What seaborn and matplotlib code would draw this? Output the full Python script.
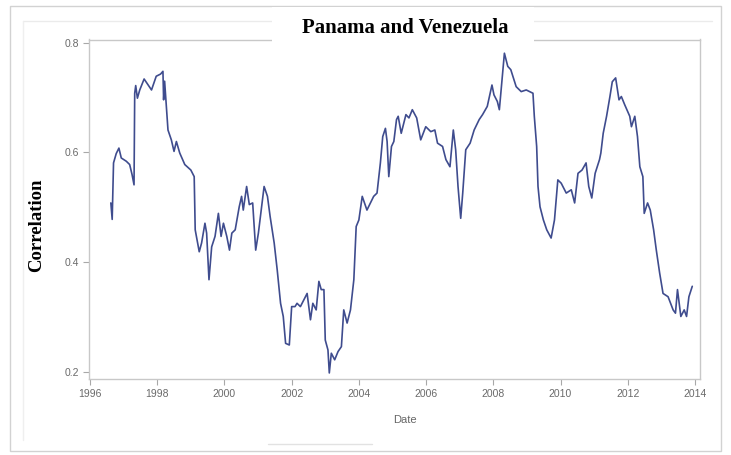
import matplotlib
matplotlib.use("Agg")
import matplotlib.pyplot as plt
import seaborn as sns
import pandas as pd
from matplotlib.patches import Rectangle
from matplotlib.lines import Line2D

# Rolling correlation between Panama and Venezuela (decimal years)
date_years = [
    1996.62, 1996.66, 1996.70, 1996.78, 1996.86, 1996.93, 1997.08, 1997.18, 1997.25, 1997.31,
    1997.33, 1997.36, 1997.41, 1997.48, 1997.61, 1997.73, 1997.83, 1997.97, 1998.10, 1998.17,
    1998.19, 1998.22, 1998.32, 1998.42, 1998.50, 1998.57, 1998.67, 1998.82, 1999.00, 1999.10,
    1999.13, 1999.25, 1999.32, 1999.42, 1999.47, 1999.54, 1999.62, 1999.72, 1999.82, 1999.90,
    1999.97, 2000.07, 2000.15, 2000.22, 2000.32, 2000.44, 2000.51, 2000.56, 2000.66, 2000.74,
    2000.84, 2000.93, 2001.01, 2001.18, 2001.28, 2001.36, 2001.48, 2001.57, 2001.67, 2001.75,
    2001.82, 2001.93, 2002.00, 2002.10, 2002.16, 2002.26, 2002.46, 2002.56, 2002.63, 2002.73,
    2002.81, 2002.88, 2002.96, 2003.00, 2003.08, 2003.12, 2003.18, 2003.28, 2003.38, 2003.48,
    2003.55, 2003.65, 2003.75, 2003.85, 2003.92, 2004.00, 2004.10, 2004.24, 2004.44, 2004.54,
    2004.64, 2004.71, 2004.79, 2004.84, 2004.89, 2004.97, 2005.04, 2005.12, 2005.17, 2005.26,
    2005.40, 2005.49, 2005.59, 2005.72, 2005.84, 2005.99, 2006.14, 2006.26, 2006.34, 2006.49,
    2006.59, 2006.71, 2006.81, 2006.88, 2006.95, 2007.03, 2007.09, 2007.18, 2007.31, 2007.43,
    2007.58, 2007.68, 2007.82, 2007.96, 2008.02, 2008.12, 2008.18, 2008.33, 2008.43, 2008.52,
    2008.68, 2008.83, 2008.98, 2009.18, 2009.22, 2009.29, 2009.33, 2009.39, 2009.49, 2009.59,
    2009.72, 2009.82, 2009.92, 2010.02, 2010.17, 2010.32, 2010.42, 2010.52, 2010.64, 2010.76,
    2010.84, 2010.93, 2011.03, 2011.16, 2011.20, 2011.27, 2011.37, 2011.47, 2011.54, 2011.64,
    2011.74, 2011.81, 2011.91, 2012.06, 2012.11, 2012.21, 2012.29, 2012.36, 2012.45, 2012.49,
    2012.59, 2012.67, 2012.77, 2012.85, 2012.95, 2013.05, 2013.20, 2013.35, 2013.42, 2013.48,
    2013.58, 2013.68, 2013.75, 2013.82, 2013.92,
]
correlation = [
    0.508, 0.478, 0.581, 0.598, 0.608, 0.590, 0.584, 0.578, 0.560, 0.541,
    0.708, 0.722, 0.699, 0.714, 0.734, 0.723, 0.714, 0.739, 0.743, 0.748,
    0.696, 0.730, 0.641, 0.623, 0.602, 0.620, 0.599, 0.578, 0.568, 0.556,
    0.459, 0.419, 0.435, 0.471, 0.453, 0.368, 0.428, 0.447, 0.489, 0.447,
    0.471, 0.447, 0.422, 0.453, 0.459, 0.501, 0.520, 0.495, 0.538, 0.505,
    0.508, 0.422, 0.453, 0.538, 0.520, 0.483, 0.435, 0.386, 0.325, 0.301,
    0.252, 0.249, 0.319, 0.319, 0.325, 0.319, 0.343, 0.295, 0.325, 0.313,
    0.365, 0.350, 0.350, 0.258, 0.240, 0.198, 0.234, 0.222, 0.237, 0.246,
    0.313, 0.289, 0.313, 0.368, 0.465, 0.477, 0.520, 0.495, 0.520, 0.526,
    0.581, 0.629, 0.644, 0.620, 0.556, 0.611, 0.620, 0.660, 0.666, 0.635,
    0.669, 0.663, 0.678, 0.663, 0.623, 0.647, 0.638, 0.641, 0.617, 0.611,
    0.587, 0.574, 0.641, 0.605, 0.538, 0.480, 0.526, 0.605, 0.617, 0.641,
    0.660, 0.669, 0.684, 0.723, 0.705, 0.693, 0.678, 0.781, 0.757, 0.751,
    0.720, 0.711, 0.714, 0.708, 0.666, 0.611, 0.538, 0.501, 0.477, 0.459,
    0.444, 0.477, 0.550, 0.544, 0.526, 0.532, 0.508, 0.562, 0.568, 0.581,
    0.538, 0.517, 0.562, 0.587, 0.599, 0.635, 0.666, 0.702, 0.729, 0.736,
    0.696, 0.702, 0.687, 0.666, 0.647, 0.666, 0.629, 0.574, 0.556, 0.489,
    0.508, 0.495, 0.459, 0.422, 0.380, 0.343, 0.337, 0.313, 0.307, 0.350,
    0.301, 0.313, 0.301, 0.337, 0.356,
]
x_ticks = [1996, 1998, 2000, 2002, 2004, 2006, 2008, 2010, 2012, 2014]
y_ticks = [0.2, 0.4, 0.6, 0.8]
title_text = "Panama and Venezuela"

sns.set_theme(style="white")
plt.rcParams["font.family"] = ["Liberation Sans", "DejaVu Sans"]

df = pd.DataFrame({"Date": date_years, "Correlation": correlation})

W, H = 731, 455
fig = plt.figure(figsize=(W / 100, H / 100), dpi=100)
fig.patch.set_facecolor("white")


def fx(px):
    return px / W


def fy(py):
    return 1 - py / H


ax_left, ax_right, ax_top, ax_bottom = 89, 700, 39.5, 379
ax = fig.add_axes([fx(ax_left), fy(ax_bottom), fx(ax_right - ax_left), (ax_bottom - ax_top) / H])

sns.lineplot(data=df, x="Date", y="Correlation", ax=ax, color="#3f4c8e",
             linewidth=1.2, estimator=None, sort=False)

ax.set_xlim(1995.97, 2014.15)
ax.set_ylim(0.187, 0.806)
ax.set_xticks(x_ticks)
ax.set_xticklabels([str(t) for t in x_ticks])
ax.set_yticks(y_ticks)
ax.set_yticklabels([f"{t:.1f}" for t in y_ticks])
ax.tick_params(axis="both", which="major", bottom=True, left=True, direction="out",
               length=4, width=0.8, color="#a8a8a8", labelsize=7.5,
               labelcolor="#6a6a6a", pad=3)
for sp in ax.spines.values():
    sp.set_color("#c8c8c8")
    sp.set_linewidth(1.0)

ax.set_xlabel("Date", fontsize=8, color="#666666")
ax.xaxis.set_label_coords((405 - ax_left) / (ax_right - ax_left),
                          (ax_bottom - 415) / (ax_bottom - ax_top))
ax.set_ylabel("Correlation", family=["Liberation Serif", "DejaVu Serif"],
              fontweight="bold", fontsize=13.5, color="black")
ax.yaxis.set_label_coords((45 - ax_left) / (ax_right - ax_left),
                          (ax_bottom - 225) / (ax_bottom - ax_top))

# outer panel borders
fig.add_artist(Rectangle((fx(10), fy(451)), fx(711), (451 - 6) / H,
                         transform=fig.transFigure, fill=False,
                         edgecolor="#d2d2d2", linewidth=1.0, zorder=1))
fig.add_artist(Line2D([fx(23), fx(712)], [fy(21), fy(21)], transform=fig.transFigure,
                      color="#ebebeb", linewidth=1.0, zorder=1))
fig.add_artist(Line2D([fx(23), fx(23)], [fy(21), fy(440)], transform=fig.transFigure,
                      color="#efefef", linewidth=1.0, zorder=1))
fig.add_artist(Line2D([fx(268), fx(372)], [fy(444), fy(444)], transform=fig.transFigure,
                      color="#e2e2e2", linewidth=1.0, zorder=1))

# title box over the frame
fig.add_artist(Rectangle((fx(272), fy(46)), fx(534 - 272), (46 - 7) / H,
                         transform=fig.transFigure, facecolor="white",
                         edgecolor="none", zorder=3))
fig.text(fx(405), fy(28), title_text, ha="center", va="center",
         family=["Liberation Serif", "DejaVu Serif"], fontweight="bold",
         fontsize=15, color="black", zorder=4)

fig.savefig("out.png", dpi=100, facecolor="white")
